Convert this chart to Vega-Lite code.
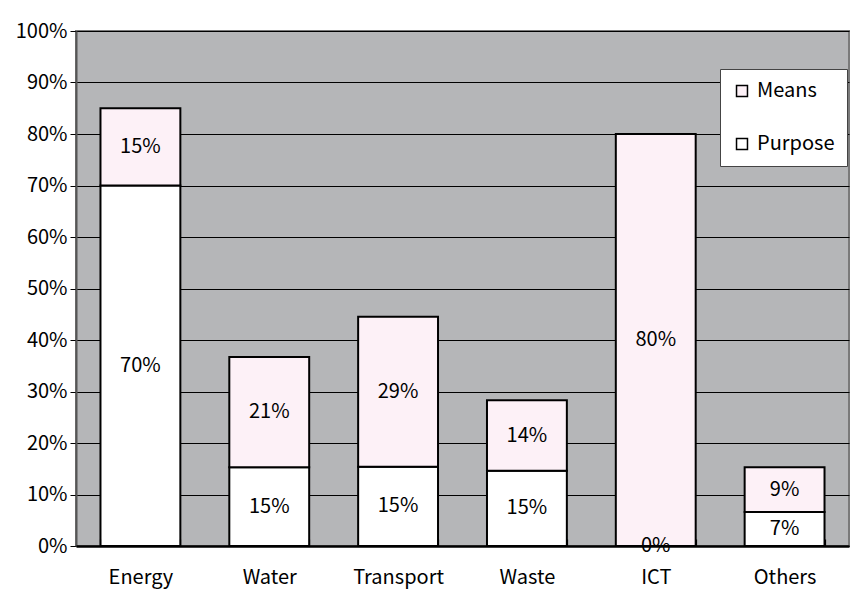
{
  "$schema": "https://vega.github.io/schema/vega-lite/v6.json",
  "width": 773,
  "height": 515,
  "autosize": {"type": "none"},
  "padding": {"left": 76, "top": 31, "right": 3, "bottom": 43},
  "background": "white",
  "config": {
    "font": "Noto Sans CJK JP",
    "view": {"fill": "#b5b6b8", "stroke": "#7a7a7a", "strokeWidth": 2},
    "axis": {"labelFont": "Noto Sans CJK JP", "labelFontSize": 20, "labelColor": "black", "labelOverlap": false},
    "axisY": {
      "title": null,
      "format": ".0%",
      "values": [0, 0.1, 0.2, 0.3, 0.4, 0.5, 0.6, 0.7, 0.8, 0.9, 1.0],
      "grid": true,
      "gridColor": "black",
      "gridWidth": 1.2,
      "gridOpacity": 1,
      "domainColor": "#555555",
      "domainWidth": 2,
      "tickColor": "black",
      "tickSize": 6,
      "labelPadding": 3
    }
  },
  "data": {
    "values": [
      {"category": "Energy", "segment": "Purpose", "value": 0.70},
      {"category": "Energy", "segment": "Means", "value": 0.15},
      {"category": "Water", "segment": "Purpose", "value": 0.153},
      {"category": "Water", "segment": "Means", "value": 0.214},
      {"category": "Transport", "segment": "Purpose", "value": 0.154},
      {"category": "Transport", "segment": "Means", "value": 0.291},
      {"category": "Waste", "segment": "Purpose", "value": 0.146},
      {"category": "Waste", "segment": "Means", "value": 0.137},
      {"category": "ICT", "segment": "Purpose", "value": 0.0},
      {"category": "ICT", "segment": "Means", "value": 0.80},
      {"category": "Others", "segment": "Purpose", "value": 0.066},
      {"category": "Others", "segment": "Means", "value": 0.087}
    ]
  },
  "transform": [
    {"stack": "value", "groupby": ["category"], "sort": [{"field": "segment", "order": "descending"}], "as": ["v0", "v1"]},
    {"calculate": "(datum.v0 + datum.v1) / 2", "as": "mid"}
  ],
  "encoding": {
    "x": {
      "field": "category",
      "type": "nominal",
      "sort": ["Energy", "Water", "Transport", "Waste", "ICT", "Others"],
      "scale": {"paddingInner": 0.38, "paddingOuter": 0.19},
      "axis": {
        "title": null,
        "labelAngle": 0,
        "domainColor": "black",
        "domainWidth": 2.5,
        "tickBand": "extent",
        "tickColor": "black",
        "tickWidth": 1.2,
        "tickSize": -7,
        "labelPadding": 38,
        "labelBaseline": "middle",
        "zindex": 1
      }
    }
  },
  "layer": [
    {
      "mark": {"type": "bar", "stroke": "black", "strokeWidth": 2},
      "encoding": {
        "y": {"field": "v0", "type": "quantitative", "scale": {"domain": [0, 1]}},
        "y2": {"field": "v1"},
        "fill": {
          "field": "segment",
          "type": "nominal",
          "scale": {"domain": ["Means", "Purpose"], "range": ["#fdf1f7", "#ffffff"]},
          "legend": {
            "title": null,
            "orient": "none",
            "legendX": 644,
            "legendY": 38,
            "fillColor": "white",
            "strokeColor": "#444444",
            "padding": 12,
            "offset": 0,
            "symbolType": "square",
            "symbolSize": 120,
            "symbolStrokeColor": "black",
            "symbolStrokeWidth": 1.5,
            "labelFont": "Noto Sans CJK JP",
            "labelFontSize": 20,
            "labelColor": "black",
            "rowPadding": 33,
            "labelOffset": 5,
            "labelLimit": 80
          }
        }
      }
    },
    {
      "mark": {"type": "text", "font": "Noto Sans CJK JP", "fontSize": 20, "color": "black", "baseline": "middle", "align": "center"},
      "encoding": {
        "y": {"field": "mid", "type": "quantitative"},
        "text": {"field": "value", "type": "quantitative", "format": ".0%"}
      }
    }
  ]
}
